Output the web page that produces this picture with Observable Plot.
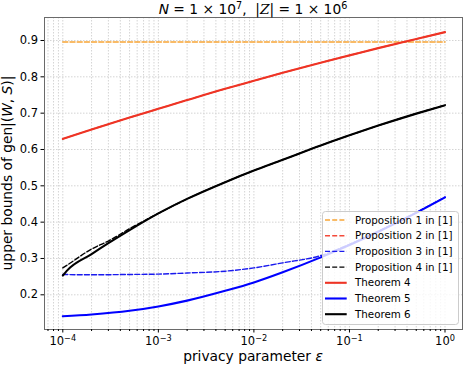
<!DOCTYPE html>
<html><head><meta charset="utf-8">
<script src="https://cdn.jsdelivr.net/npm/d3@7"></script>
<script src="https://cdn.jsdelivr.net/npm/@observablehq/plot@0.6"></script>
<style>
body{margin:0;background:#fff;font-family:"DejaVu Sans",sans-serif;}
#wrap{position:relative;width:466px;height:366px;overflow:hidden;background:#fff;}
#title{position:absolute;z-index:2;left:44px;width:418px;top:1px;text-align:center;font-size:13.8px;line-height:16px;white-space:nowrap;color:#000;}
#title sup{font-size:70%;line-height:0;vertical-align:0.5em;}
#title .cal{font-family:"DejaVu Serif",serif;font-style:italic;}
#chart{position:absolute;z-index:1;left:0;top:14px;}
</style></head><body>
<div id="wrap">
  <div id="title"><i>N</i> = 1 × 10<sup>7</sup>,&nbsp; |<span class="cal">Z</span>| = 1 × 10<sup>6</sup></div>
  <div id="chart"></div>
</div>
<script>
// ---- data ----
const eps = [1e-4, 2e-4, 5e-4, 1e-3, 2e-3, 5e-3, 1e-2, 2e-2, 5e-2, 1e-1, 2e-1, 5e-1, 1];
const epsFine = [1e-4, 1.1e-4, 2e-4, 3e-4, 5e-4, 1e-3, 2e-3, 5e-3, 1e-2, 2e-2, 5e-2, 1e-1, 2e-1, 5e-1, 1];

const prop1 = [0.896, 0.896, 0.896, 0.896, 0.896, 0.896, 0.896, 0.896, 0.896, 0.896, 0.896, 0.896, 0.896];
const prop2 = [0.629, 0.655, 0.688, 0.712, 0.736, 0.767, 0.789, 0.811, 0.839, 0.859, 0.879, 0.904, 0.923];
const prop3 = [0.256, 0.255, 0.256, 0.257, 0.260, 0.265, 0.274, 0.288, 0.308, 0.339, 0.375, 0.427, 0.469];
const prop4 = [0.274, 0.281, 0.326, 0.348, 0.382, 0.424, 0.464, 0.510, 0.542, 0.5715, 0.611, 0.639, 0.6657, 0.6987, 0.722];
const thm4  = [0.629, 0.655, 0.688, 0.712, 0.736, 0.767, 0.789, 0.811, 0.839, 0.859, 0.879, 0.904, 0.923];
const thm5  = [0.141, 0.146, 0.156, 0.168, 0.184, 0.211, 0.234, 0.262, 0.303, 0.337, 0.3735, 0.4256, 0.468];
const thm6  = [0.253, 0.266, 0.312, 0.342, 0.378, 0.424, 0.464, 0.510, 0.542, 0.5715, 0.611, 0.639, 0.6657, 0.6987, 0.722];

const seriesNames = ["Proposition 1 in [1]", "Proposition 2 in [1]", "Proposition 3 in [1]", "Proposition 4 in [1]", "Theorem 4", "Theorem 5", "Theorem 6"];
const xMajorTicks = [1e-4, 1e-3, 1e-2, 1e-1, 1];
const xTickBase = "10";
const xTickExponents = ["−4", "−3", "−2", "−1", "0"];
const yTicks = [0.2, 0.3, 0.4, 0.5, 0.6, 0.7, 0.8, 0.9];
const xLabel = "privacy parameter ";
const yLabel = ["upper bounds of gen|(", "W", ", ", "S", ")|"];

// ---- styles ----
const seriesData = [
  {x: eps, y: prop1}, {x: eps, y: prop2}, {x: eps, y: prop3}, {x: epsFine, y: prop4},
  {x: eps, y: thm4}, {x: eps, y: thm5}, {x: epsFine, y: thm6}
];
const styles = [
  {stroke: "#f8a536", dash: "5,2.2", w: 1.5},
  {stroke: "#f44a3a", dash: "5,2.2", w: 1.4},
  {stroke: "#1a1aee", dash: "5,2.2", w: 1.4},
  {stroke: "#000000", dash: "5,2.2", w: 1.4},
  {stroke: "#ee3425", dash: null, w: 2.1},
  {stroke: "#0000ff", dash: null, w: 2.1},
  {stroke: "#000000", dash: null, w: 2.1}
];

const minorTicks = [];
for (let k = -5; k <= 0; k++) for (let m = 2; m <= 9; m++) {
  const v = m * Math.pow(10, k);
  if (v > Math.pow(10, -4.1915) && v < Math.pow(10, 0.183)) minorTicks.push(v);
}
const allXTicks = xMajorTicks.concat(minorTicks);

const lineMarks = seriesData.map((s, i) => Plot.line(
  s.x.map((e, j) => ({x: e, y: s.y[j]})),
  {x: "x", y: "y", stroke: styles[i].stroke, strokeWidth: styles[i].w,
   strokeDasharray: styles[i].dash, curve: "monotone-x"}
));

const plot = Plot.plot({
  width: 466, height: 352,
  marginLeft: 44, marginRight: 4, marginTop: 3, marginBottom: 37,
  x: {type: "log", domain: [Math.pow(10, -4.1915), Math.pow(10, 0.183)]},
  y: {domain: [0.1045, 0.9633]},
  style: {fontFamily: "DejaVu Sans", fontSize: "11.5px", color: "#000", background: "transparent"},
  marks: [
    Plot.gridX(allXTicks, {stroke: "#d4d4d4", strokeOpacity: 1, strokeDasharray: "1.5,1.5"}),
    Plot.gridY(yTicks, {stroke: "#d4d4d4", strokeOpacity: 1, strokeDasharray: "1.5,1.5"}),
    ...lineMarks,
    Plot.frame({stroke: "#6a6a6a"}),
    Plot.axisX(xMajorTicks, {tickSize: 3.5, tickPadding: 4, label: null,
      tickFormat: d => xTickBase + "^" + xTickExponents[xMajorTicks.indexOf(d)]}),
    Plot.axisX(minorTicks, {tickSize: 2, label: null, tickFormat: () => ""}),
    Plot.axisY(yTicks, {tickSize: 3.5, tickPadding: 3, label: null, tickFormat: d => d.toFixed(1)})
  ]
});
document.getElementById("chart").appendChild(plot);

const svg = d3.select(plot);
// superscript exponents on the x tick labels
svg.selectAll("text").each(function () {
  const t = this.textContent;
  if (t.indexOf("^") < 0) return;
  const [base, ex] = t.split("^");
  const el = d3.select(this);
  el.selectAll("*").remove();
  el.text(null);
  el.append("tspan").text(base);
  el.append("tspan").attr("dy", "-0.45em").attr("font-size", "8.2px").text(ex);
});

// ---- axis labels & legend ----
const xl = svg.append("text").attr("x", 253).attr("y", 347).attr("text-anchor", "middle")
  .attr("font-size", "13.8px").attr("fill", "#000");
xl.append("tspan").text(xLabel);
xl.append("tspan").attr("font-style", "italic").text("ε");

const yl = svg.append("text").attr("transform", "translate(12,159) rotate(-90)")
  .attr("text-anchor", "middle").attr("font-size", "13.8px").attr("fill", "#000");
yLabel.forEach((t, i) => yl.append("tspan").attr("font-style", i % 2 ? "italic" : "normal").text(t));

const lg = svg.append("g").attr("transform", "translate(322,197)");
lg.append("rect").attr("x", 0.5).attr("y", 0.5).attr("width", 136).attr("height", 113).attr("rx", 3)
  .attr("fill", "#ffffff").attr("fill-opacity", 0.8).attr("stroke", "#cccccc").attr("stroke-width", 1);
seriesNames.forEach((name, i) => {
  const cy = 9 + i * 15.7;
  lg.append("line").attr("x1", 3).attr("x2", 24.7).attr("y1", cy).attr("y2", cy)
    .attr("stroke", styles[i].stroke).attr("stroke-width", styles[i].w)
    .attr("stroke-dasharray", styles[i].dash);
  lg.append("text").attr("x", 33).attr("y", cy).attr("dy", "0.35em").attr("text-anchor", "start")
    .attr("font-size", "10.3px").attr("fill", "#000").text(name);
});
</script>
</body></html>
